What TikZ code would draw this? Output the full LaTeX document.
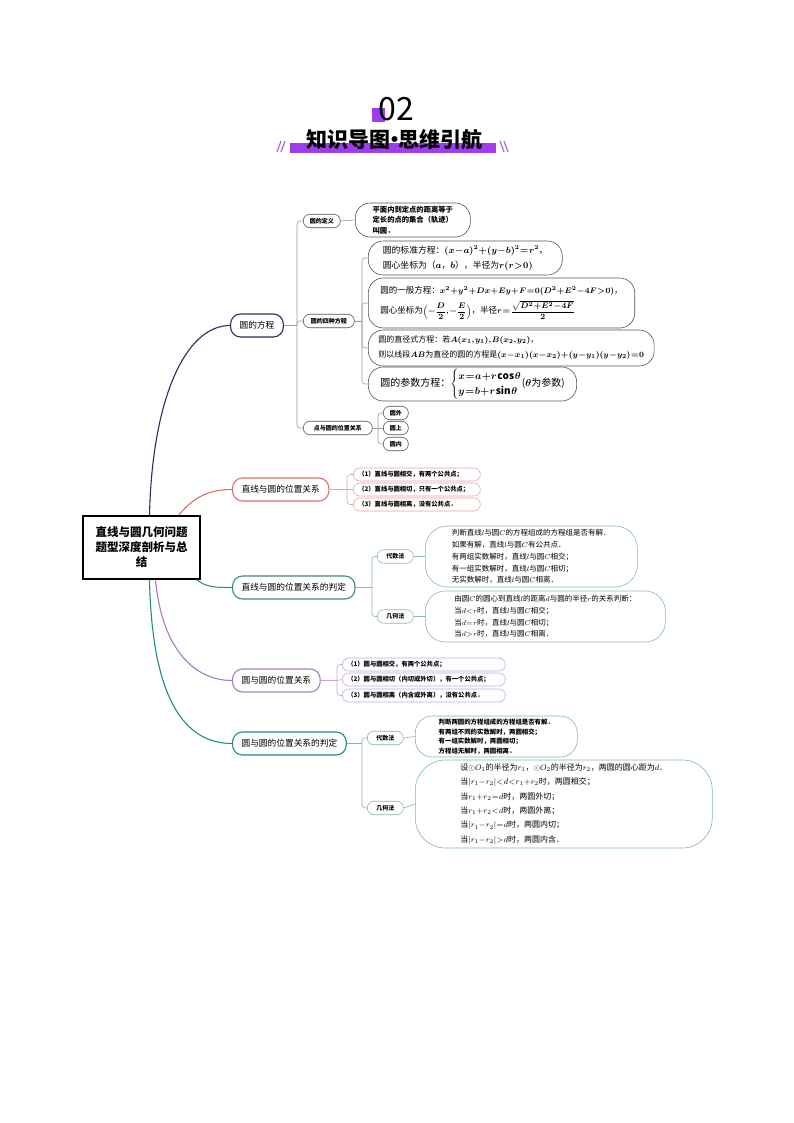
\documentclass[tikz,border=0pt]{standalone}
\usepackage{amsmath}
\usepackage{fontspec}
\setmainfont{Noto Sans CJK SC}
\definecolor{navyc}{HTML}{2E2D5E}
\definecolor{salm}{HTML}{D6736B}
\definecolor{salml}{HTML}{E3A7A2}
\definecolor{grn}{HTML}{3F8F60}
\definecolor{grnl}{HTML}{8DBB9F}
\definecolor{purp}{HTML}{A67BC6}
\definecolor{purpl}{HTML}{C6A9DC}
\definecolor{tealc}{HTML}{1E8F88}
\definecolor{teall}{HTML}{7FB8B3}
\definecolor{vio}{HTML}{A03CF0}
\definecolor{vios}{HTML}{A868D8}
\definecolor{gline}{HTML}{9A9A9A}
\definecolor{gbox}{HTML}{555555}
\newcommand{\tightmath}{\medmuskip=0.5mu\thickmuskip=1mu\thinmuskip=1mu}
\begin{document}
\begin{tikzpicture}[x=1pt,y=-1pt,
  rootbox/.style={draw=black, line width=1.3pt, fill=white, minimum width=117pt, minimum height=63pt, align=center, inner sep=2pt, font=\bfseries\fontsize{11.5}{15}\selectfont},
  branchbox/.style={draw=#1, line width=1.1pt, fill=white, rounded corners=10pt, minimum height=23pt, inner xsep=9pt, anchor=west, font=\fontsize{8.7}{10}\selectfont},
  subbox/.style={draw=#1, line width=0.6pt, fill=white, rounded corners=6.5pt, minimum height=13.5pt, inner xsep=5pt, inner ysep=1pt, anchor=west, font=\bfseries\fontsize{6}{7}\selectfont},
  smallleaf/.style={draw=#1, line width=0.6pt, fill=white, rounded corners=6.5pt, minimum height=13pt, inner xsep=5pt, inner ysep=1pt, anchor=west, align=left, font=\bfseries\fontsize{6.3}{7}\selectfont},
  leafbox/.style={draw=#1, line width=0.6pt, fill=white, rounded corners=15pt, align=left, anchor=west, inner xsep=12pt, inner ysep=2pt},
  conn/.style={draw=#1, line width=0.6pt, rounded corners=3pt},
  trunk/.style={draw=#1, line width=1.1pt},
]
\useasboundingbox (0,0) rectangle (794,1123);
\fill[white] (0,0) rectangle (794,1123);

% ---------- header ----------
\fill[vio] (372,108) rectangle (385,122);
\node[font=\fontsize{32}{32}\selectfont, inner sep=0pt] (num) at (396,109) {02};
\fill[vio] (290,143) rectangle (496,153);
\node[font=\bfseries\fontsize{21}{21}\selectfont, inner sep=0pt] (title) at (394.5,140) {知识导图\hspace{-0.32em}·\hspace{-0.32em}思维引航};
\draw[vios, line width=1.2pt] (277,152) -- (281,141) (281,152) -- (285,141);
\draw[vios, line width=1.2pt] (500,141) -- (504,152) (504,141) -- (508,152);

% ---------- root ----------
\node[rootbox] (root) at (141.5,547.5) {直线与圆几何问题\\题型深度剖析与总\\结};

% ---------- branch 1 ----------
\node[branchbox=navyc] (b1) at (230,325.5) {圆的方程};
\node[subbox=gbox, minimum width=37pt, inner xsep=3pt] (s11) at (303,221) {圆的定义};
\node[subbox=gbox, minimum width=51pt, inner xsep=3pt] (s12) at (303,321) {圆的四种方程};
\node[subbox=gbox, minimum width=69pt, inner xsep=3pt] (s13) at (303,428) {点与圆的位置关系};

\node[leafbox=gbox, minimum width=115pt, minimum height=34pt, rounded corners=15pt, inner xsep=10pt, font=\bfseries\fontsize{7.3}{10.5}\selectfont] (l11) at (355,220) {平面内到定点的距离等于\\定长的点的集合（轨迹）\\叫圆．};

\node[leafbox=gbox, minimum width=194pt, minimum height=34pt, inner xsep=10pt, font=\boldmath\tightmath\fontsize{8.8}{15}\selectfont] (l121) at (368,258) {圆的标准方程：$(x-a)^2+(y-b)^2=r^2$，\\圆心坐标为（$a$，$b$），半径为$r(r>0)$};
\node[leafbox=gbox, minimum width=264pt, minimum height=50pt, font=\boldmath\tightmath\fontsize{8.5}{15}\selectfont] (l122) at (368,303) {圆的一般方程：$x^2+y^2+Dx+Ey+F=0(D^2+E^2-4F>0)$，\\[4pt]圆心坐标为$\Bigl(-\dfrac{D}{2},-\dfrac{E}{2}\Bigr)$，半径$r=\dfrac{\sqrt{D^2+E^2-4F}}{2}$};
\node[leafbox=gbox, minimum width=279pt, minimum height=36pt, inner xsep=10pt, font=\boldmath\tightmath\fontsize{8}{15}\selectfont] (l123) at (368,348) {圆的直径式方程：若$A(x_1,y_1),B(x_2,y_2)$，\\则以线段$AB$为直径的圆的方程是$(x-x_1)(x-x_2)+(y-y_1)(y-y_2)=0$};
\node[leafbox=gbox, minimum width=192pt, minimum height=32pt, font=\boldmath\tightmath\fontsize{10}{12}\selectfont] (l124) at (368,384) {圆的参数方程：$\begin{cases}x=a+r\cos\theta\\ y=b+r\sin\theta\end{cases}$\hspace{-10pt}($\theta$为参数)};

\node[subbox=gbox, minimum width=25pt, inner xsep=3pt] (l131) at (383,413) {圆外};
\node[subbox=gbox, minimum width=25pt, inner xsep=3pt] (l132) at (383,428) {圆上};
\node[subbox=gbox, minimum width=25pt, inner xsep=3pt] (l133) at (383,444) {圆内};

% ---------- branch 2 ----------
\node[branchbox=salm] (b2) at (232,489.5) {直线与圆的位置关系};
\node[smallleaf=salml, text width=117pt] (l21) at (353,474.5) {（1）直线与圆相交，有两个公共点；};
\node[smallleaf=salml, text width=117pt] (l22) at (353,489.5) {（2）直线与圆相切，只有一个公共点；};
\node[smallleaf=salml, text width=117pt] (l23) at (353,504.5) {（3）直线与圆相离，没有公共点．};

% ---------- branch 3 ----------
\node[branchbox=grn] (b3) at (232,587.5) {直线与圆的位置关系的判定};
\node[subbox=grnl, minimum width=36pt] (s31) at (377,556.5) {代数法};
\node[subbox=grnl, minimum width=36pt] (s32) at (377,616.5) {几何法};
\node[leafbox=grnl, minimum width=212pt, minimum height=61pt, rounded corners=22pt, font=\tightmath\fontsize{7.5}{11.8}\selectfont] (l31) at (425,556.5) {判断直线$l$与圆$C$的方程组成的方程组是否有解．\\如果有解，直线$l$与圆$C$有公共点．\\有两组实数解时，直线$l$与圆$C$相交；\\有一组实数解时，直线$l$与圆$C$相切；\\无实数解时，直线$l$与圆$C$相离．};
\node[leafbox=grnl, minimum width=240pt, minimum height=51pt, rounded corners=20pt, font=\tightmath\fontsize{7.5}{11.8}\selectfont] (l32) at (425,616.5) {由圆$C$的圆心到直线$l$的距离$d$与圆的半径$r$的关系判断：\\当$d<r$时，直线$l$与圆$C$相交；\\当$d=r$时，直线$l$与圆$C$相切；\\当$d>r$时，直线$l$与圆$C$相离．};

% ---------- branch 4 ----------
\node[branchbox=purp] (b4) at (232,680.5) {圆与圆的位置关系};
\node[smallleaf=purpl, text width=153pt] (l41) at (342,664.5) {（1）圆与圆相交，有两个公共点；};
\node[smallleaf=purpl, text width=153pt] (l42) at (342,679.5) {（2）圆与圆相切（内切或外切），有一个公共点；};
\node[smallleaf=purpl, text width=153pt] (l43) at (342,695.5) {（3）圆与圆相离（内含或外离），没有公共点．};

% ---------- branch 5 ----------
\node[branchbox=tealc] (b5) at (232,743.5) {圆与圆的位置关系的判定};
\node[subbox=teall, minimum width=36pt] (s51) at (367,738) {代数法};
\node[subbox=teall, minimum width=36pt] (s52) at (367,808) {几何法};
\node[leafbox=teall, minimum width=162pt, minimum height=41pt, rounded corners=17pt, font=\bfseries\fontsize{6.4}{9.6}\selectfont] (l51) at (415,736.5) {判断两圆的方程组成的方程组是否有解．\\有两组不同的实数解时，两圆相交；\\有一组实数解时，两圆相切；\\方程组无解时，两圆相离．};
\node[leafbox=teall, minimum width=297pt, minimum height=88pt, rounded corners=30pt, font=\tightmath\fontsize{8}{14.4}\selectfont] (l52) at (415,804) {设$\odot O_1$的半径为$r_1$，$\odot O_2$的半径为$r_2$，两圆的圆心距为$d$．\\当$|r_1-r_2|<d<r_1+r_2$时，两圆相交；\\当$r_1+r_2=d$时，两圆外切；\\当$r_1+r_2<d$时，两圆外离；\\当$|r_1-r_2|=d$时，两圆内切；\\当$|r_1-r_2|>d$时，两圆内含．};

% ---------- junction coordinates ----------
\coordinate (j1) at (297,325.5);
\coordinate (j12) at (362,321);
\coordinate (j13) at (378,428);
\coordinate (j2) at (347,489.5);
\coordinate (j3) at (372,587.5);
\coordinate (j4) at (337,680.5);
\coordinate (j5) at (362,743.5);

% ---------- trunk curves ----------
\draw[trunk=navyc] ([xshift=8pt]root.north) .. controls (152,400) and (185,325.5) .. (b1.west);
\draw[trunk=salm] ([xshift=-22pt]root.north east) .. controls (195,495) and (212,489.5) .. (b2.west);
\draw[trunk=grn] ([xshift=-4pt]root.south east) .. controls (206,587.5) and (216,587.5) .. (b3.west);
\draw[trunk=purp] ([xshift=14pt]root.south) .. controls (162,650) and (195,680.5) .. (b4.west);
\draw[trunk=tealc] ([xshift=8pt]root.south) .. controls (152,700) and (185,743.5) .. (b5.west);

% ---------- branch 1 connectors ----------
\draw[conn=gline] (b1.east) -- (j1);
\draw[conn=gline] (j1) |- (s11.west);
\draw[conn=gline] (j1) |- (s12.west);
\draw[conn=gline] (j1) |- (s13.west);
\draw[conn=gline] (s11.east) -- (l11.west);
\draw[conn=gline] (s12.east) -- (j12);
\draw[conn=gline] (j12) |- (l121.west);
\draw[conn=gline] (j12) |- (l122.west);
\draw[conn=gline] (j12) |- (l123.west);
\draw[conn=gline] (j12) |- (l124.west);
\draw[conn=gline] (s13.east) -- (j13);
\draw[conn=gline] (j13) |- (l131.west);
\draw[conn=gline] (j13) |- (l133.west);
\draw[conn=gline] (j13) -- (l132.west);

% ---------- branch 2 connectors ----------
\draw[conn=salml] (b2.east) -- (j2);
\draw[conn=salml] (j2) |- (l21.west);
\draw[conn=salml] (j2) -- (l22.west);
\draw[conn=salml] (j2) |- (l23.west);

% ---------- branch 3 connectors ----------
\draw[conn=grnl] (b3.east) -- (j3);
\draw[conn=grnl] (j3) |- (s31.west);
\draw[conn=grnl] (j3) |- (s32.west);
\draw[conn=grnl] (s31.east) -- (l31.west);
\draw[conn=grnl] (s32.east) -- (l32.west);

% ---------- branch 4 connectors ----------
\draw[conn=purpl] (b4.east) -- (j4);
\draw[conn=purpl] (j4) |- (l41.west);
\draw[conn=purpl] (j4) -- (l42.west);
\draw[conn=purpl] (j4) |- (l43.west);

% ---------- branch 5 connectors ----------
\draw[conn=teall] (b5.east) -- (j5);
\draw[conn=teall] (j5) |- (s51.west);
\draw[conn=teall] (j5) |- (s52.west);
\draw[conn=teall] (s51.east) -- (l51.west);
\draw[conn=teall] (s52.east) -- (l52.west);
\end{tikzpicture}
\end{document}
